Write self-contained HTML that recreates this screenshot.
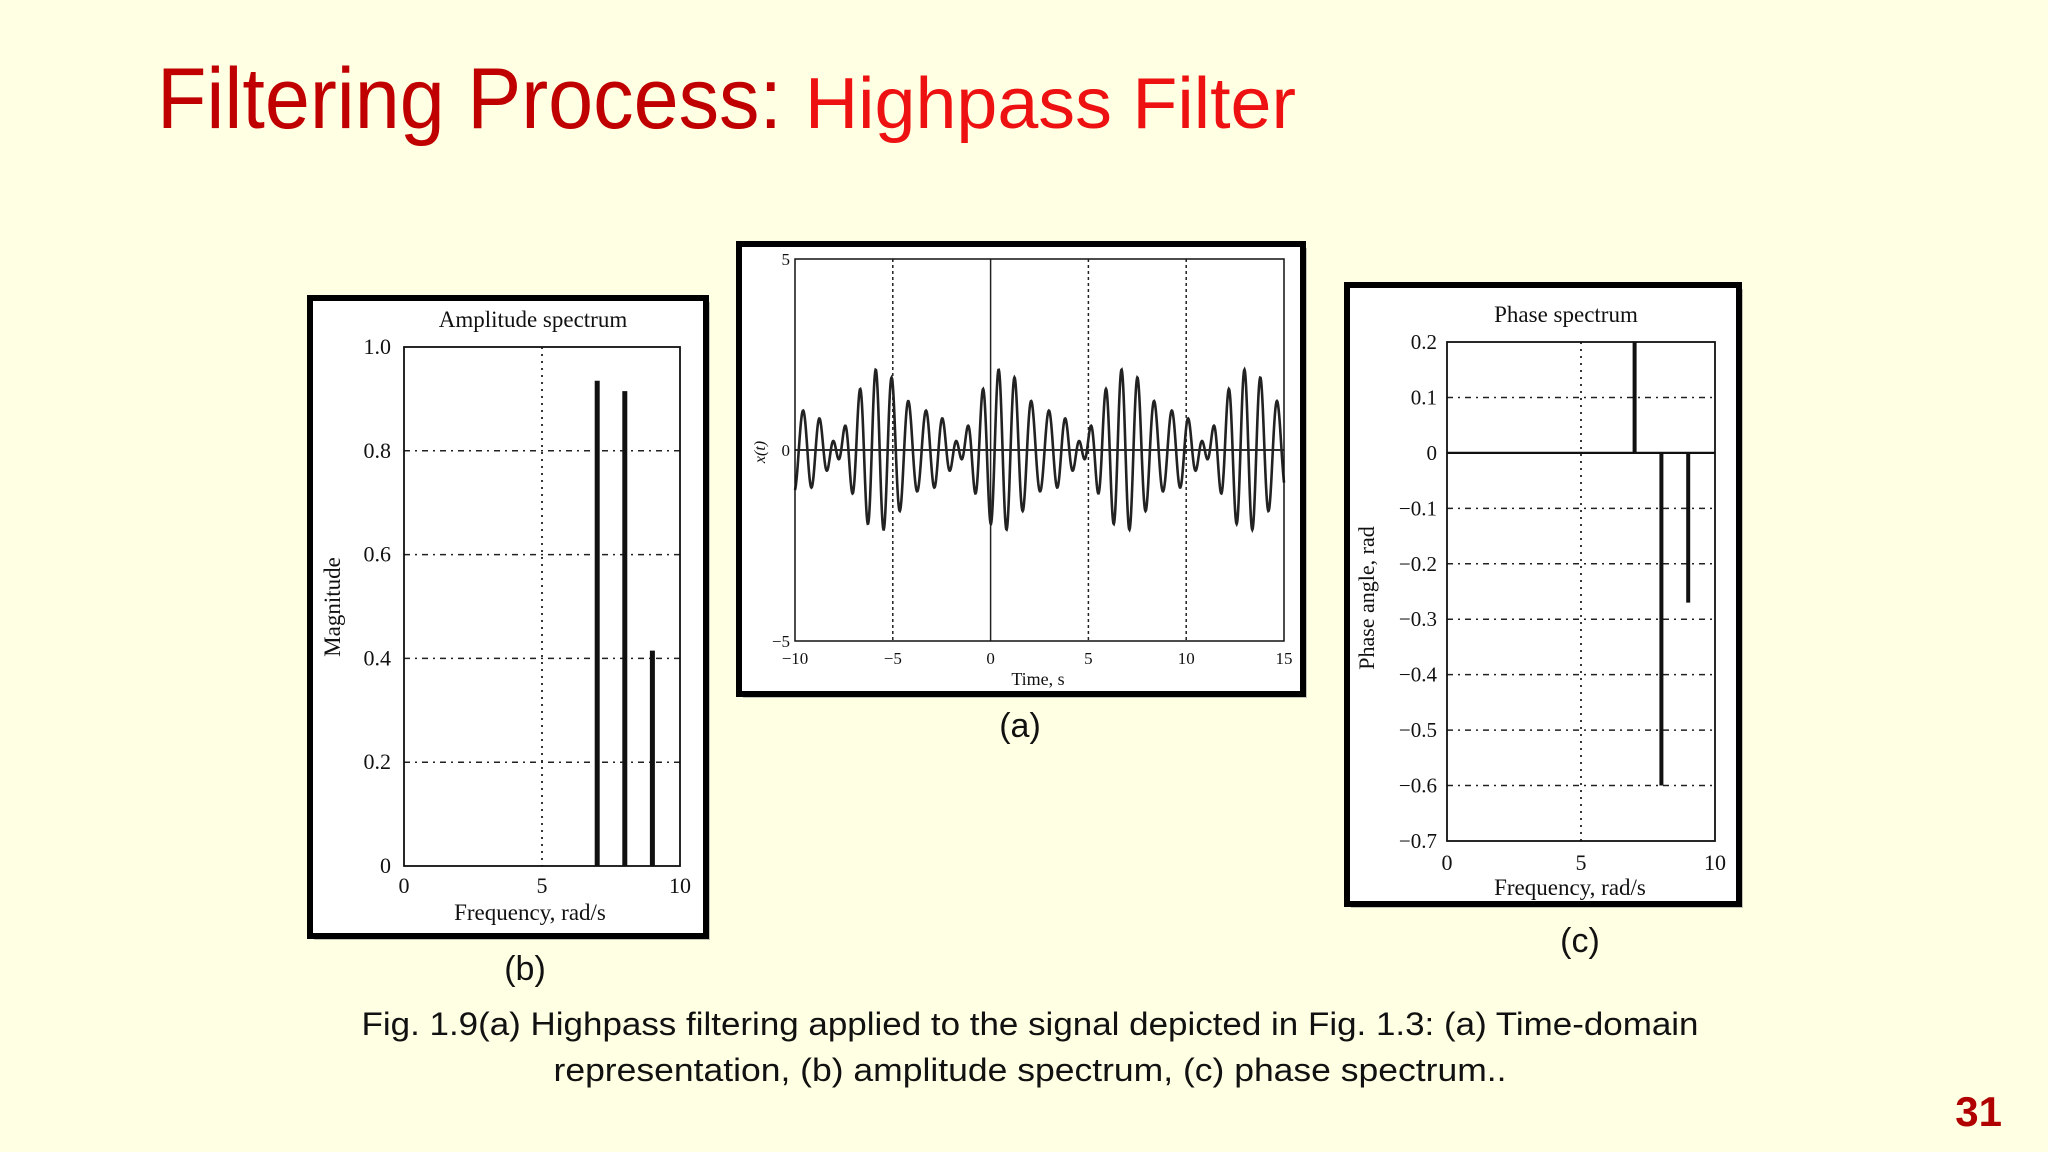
<!DOCTYPE html>
<html><head><meta charset="utf-8"><style>
html,body{margin:0;padding:0;background:#FFFFE3;}
svg{display:block;}
.ser{font-family:"Liberation Serif",serif;fill:#111;}
.sans{font-family:"Liberation Sans",sans-serif;}
</style></head><body>
<svg id="slide" width="2048" height="1152" viewBox="0 0 2048 1152" xmlns="http://www.w3.org/2000/svg">
<rect width="2048" height="1152" fill="#FFFFE3"/>
<text x="157" y="128" class="sans"><tspan font-size="86" fill="#C00000" textLength="625" lengthAdjust="spacingAndGlyphs">Filtering Process:</tspan></text>
<text x="805" y="128" class="sans" font-size="72" fill="#EE1111" textLength="491" lengthAdjust="spacingAndGlyphs">Highpass Filter</text>

<g id="panelB"></g>
<g id="panelA"></g>
<g id="panelC"></g>

<text x="1020" y="737" text-anchor="middle" class="sans" font-size="34" fill="#111">(a)</text>
<text x="525" y="980" text-anchor="middle" class="sans" font-size="34" fill="#111">(b)</text>
<text x="1580" y="952" text-anchor="middle" class="sans" font-size="34" fill="#111">(c)</text>
<text x="1030" y="1035" text-anchor="middle" class="sans" font-size="32" fill="#111" textLength="1337" lengthAdjust="spacingAndGlyphs">Fig. 1.9(a) Highpass filtering applied to the signal depicted in Fig. 1.3: (a) Time-domain</text>
<text x="1030" y="1081" text-anchor="middle" class="sans" font-size="32" fill="#111" textLength="953" lengthAdjust="spacingAndGlyphs">representation, (b) amplitude spectrum, (c) phase spectrum..</text>
<text x="2002" y="1126" text-anchor="end" class="sans" font-size="42" font-weight="bold" fill="#B00000">31</text>
</svg>
<script>
// data
const freqs = [7, 8, 9];
const magnitudes = [0.935, 0.915, 0.415];
const phases = [0.2, -0.6, -0.27];
const signalPhases = [0.6, -0.6, -0.27]; // phase used for time signal (7 rad/s bar clipped in plot)
const ampYTicks = ["0","0.2","0.4","0.6","0.8","1.0"];
const ampYVals = [0,0.2,0.4,0.6,0.8,1.0];
const freqXVals = [0,5,10];
const timeXVals = [-10,-5,0,5,10,15];
const timeYVals = [-5,0,5];
const phaseYVals = [0.2,0.1,0,-0.1,-0.2,-0.3,-0.4,-0.5,-0.6,-0.7];

const NS="http://www.w3.org/2000/svg";
function mk(parent,tag,attrs,text){const e=document.createElementNS(NS,tag);for(const k in attrs)e.setAttribute(k,attrs[k]);if(text!==undefined)e.textContent=text;parent.appendChild(e);return e;}
function lab(v){return v<0?"\u2212"+String(Math.abs(v)):String(v);}
function frame(g,x,y,w,h){
  const s=mk(g,'rect',{x:x+4,y:y+4,width:w,height:h,fill:'#888',opacity:0.5});
  
  
  const r=mk(g,'rect',{x:x,y:y,width:w,height:h,fill:'#fff',stroke:'#000','stroke-width':6});
  
  
}

// Panel B: amplitude
(function(){
  const g=document.getElementById('panelB');
  frame(g,310,298,396,638);
  const L=404,R=680,T=347,B=866;
  const xs=v=>L+(v-0)/(10)*(R-L), ys=v=>B-(v-0)/(1.0)*(B-T);
  ampYVals.forEach((v,i)=>{
    if(v>0&&v<1){const l=mk(g,'line',{x1:L,x2:R,y1:ys(v),y2:ys(v),stroke:'#222','stroke-width':1.5,'stroke-dasharray':'6 5 2 5'});
    
    }
    const t=mk(g,'text',{x:391,y:ys(v)+7,'text-anchor':'end','font-size':22,class:'ser'},ampYTicks[i]);
    
    
  });
  const vl=mk(g,'line',{x1:xs(5),x2:xs(5),y1:T,y2:B,stroke:'#222','stroke-width':1.8,'stroke-dasharray':'2 5'});
  
  
  const ax=mk(g,'rect',{x:L,y:T,width:R-L,height:B-T,fill:'none',stroke:'#111','stroke-width':1.8});
  
  
  freqXVals.forEach(v=>{const t=mk(g,'text',{x:xs(v),y:893,'text-anchor':'middle','font-size':22,class:'ser'},lab(v));
    
    });
  freqs.forEach((f,i)=>{const b=mk(g,'line',{x1:xs(f),x2:xs(f),y1:B,y2:ys(magnitudes[i]),stroke:'#111','stroke-width':5});
    
    });
  const tt=mk(g,'text',{x:533,y:327,'text-anchor':'middle','font-size':23,class:'ser'},'Amplitude spectrum');
  
  
  const xt=mk(g,'text',{x:530,y:920,'text-anchor':'middle','font-size':23,class:'ser'},'Frequency, rad/s');
  
  
  const yt=mk(g,'text',{x:0,y:0,'text-anchor':'middle','font-size':23,class:'ser',transform:'translate(340,607) rotate(-90)'},'Magnitude');
  
  
})();

// Panel A: time domain
(function(){
  const g=document.getElementById('panelA');
  frame(g,739,244,564,450);
  const L=795,R=1284,T=259,B=641;
  const xs=v=>L+(v+10)/25*(R-L), ys=v=>B-(v+5)/10*(B-T);
  [-5,5,10].forEach(v=>{const l=mk(g,'line',{x1:xs(v),x2:xs(v),y1:T,y2:B,stroke:'#222','stroke-width':1.5,'stroke-dasharray':'3 3'});
    
    });
  const z=mk(g,'line',{x1:xs(0),x2:xs(0),y1:T,y2:B,stroke:'#222','stroke-width':1.5});
  
  
  const zy=mk(g,'line',{x1:L,x2:R,y1:ys(0),y2:ys(0),stroke:'#111','stroke-width':1.8});
  
  
  let d='';
  for(let t=-10;t<=15.0001;t+=0.02){
    let x=0;freqs.forEach((f,i)=>{x-=magnitudes[i]*Math.cos(f*t+signalPhases[i]);});
    d+=(d?'L':'M')+xs(t).toFixed(2)+' '+ys(x).toFixed(2);
  }
  const p=mk(g,'path',{d:d,fill:'none',stroke:'#222','stroke-width':2.6});
  
  
  const ax=mk(g,'rect',{x:L,y:T,width:R-L,height:B-T,fill:'none',stroke:'#111','stroke-width':1.5});
  
  
  timeXVals.forEach(v=>{const t=mk(g,'text',{x:xs(v),y:664,'text-anchor':'middle','font-size':17,class:'ser'},lab(v));
    
    });
  timeYVals.forEach(v=>{const t=mk(g,'text',{x:790,y:ys(v)+6,'text-anchor':'end','font-size':17,class:'ser'},lab(v));
    
    });
  const xt=mk(g,'text',{x:1038,y:685,'text-anchor':'middle','font-size':18,class:'ser'},'Time, s');
  
  
  const yt=mk(g,'text',{x:0,y:0,'text-anchor':'middle','font-size':16,'font-style':'italic',class:'ser',transform:'translate(765,452) rotate(-90)'},'x(t)');
  
  
})();

// Panel C: phase
(function(){
  const g=document.getElementById('panelC');
  frame(g,1347,285,392,619);
  const L=1447,R=1715,T=342,B=841;
  const xs=v=>L+v/10*(R-L), ys=v=>T+(0.2-v)/0.9*(B-T);
  phaseYVals.forEach(v=>{
    if(v<0.2&&v>-0.7&&v!==0){const l=mk(g,'line',{x1:L,x2:R,y1:ys(v),y2:ys(v),stroke:'#222','stroke-width':1.5,'stroke-dasharray':'6 5 2 5'});
    
    }
    const t=mk(g,'text',{x:1437,y:ys(v)+7,'text-anchor':'end','font-size':21,class:'ser'},lab(v));
    
    
  });
  const vl=mk(g,'line',{x1:xs(5),x2:xs(5),y1:T,y2:B,stroke:'#222','stroke-width':1.8,'stroke-dasharray':'2 5'});
  
  
  const z=mk(g,'line',{x1:L,x2:R,y1:ys(0),y2:ys(0),stroke:'#111','stroke-width':2.2});
  
  
  const ax=mk(g,'rect',{x:L,y:T,width:R-L,height:B-T,fill:'none',stroke:'#111','stroke-width':1.8});
  
  
  freqs.forEach((f,i)=>{const b=mk(g,'line',{x1:xs(f),x2:xs(f),y1:ys(0),y2:ys(Math.max(-0.7,Math.min(0.2,phases[i]))),stroke:'#111','stroke-width':4});
    
    });
  freqXVals.forEach(v=>{const t=mk(g,'text',{x:xs(v),y:870,'text-anchor':'middle','font-size':22,class:'ser'},lab(v));
    
    });
  const tt=mk(g,'text',{x:1566,y:322,'text-anchor':'middle','font-size':23,class:'ser'},'Phase spectrum');
  
  
  const xt=mk(g,'text',{x:1570,y:895,'text-anchor':'middle','font-size':23,class:'ser'},'Frequency, rad/s');
  
  
  const yt=mk(g,'text',{x:0,y:0,'text-anchor':'middle','font-size':22,class:'ser',transform:'translate(1374,598) rotate(-90)'},'Phase angle, rad');
  
  
})();
</script>
</body></html>
